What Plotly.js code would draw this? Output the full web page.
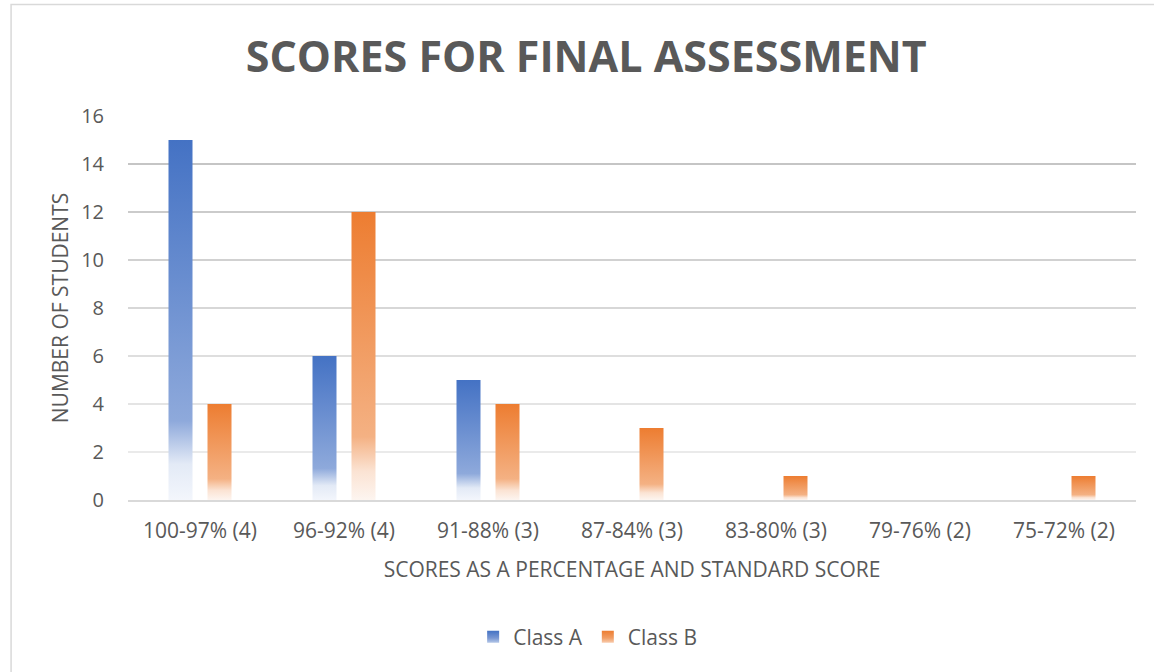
<!DOCTYPE html>
<html>
<head>
<meta charset="utf-8">
<script src="https://cdn.plot.ly/plotly-3.0.1.min.js"></script>
<style>
html,body{margin:0;padding:0;background:#fff;}
#chart{width:1154px;height:672px;}
</style>
</head>
<body>
<div id="chart"></div>
<script>
const categories = ['100-97% (4)', '96-92% (4)', '91-88% (3)', '87-84% (3)', '83-80% (3)', '79-76% (2)', '75-72% (2)'];
const classA = [15, 6, 5, 0, 0, 0, 0];
const classB = [4, 12, 4, 3, 1, 0, 1];
const seriesNames = ['Class A', 'Class B'];
const yTicks = [0, 2, 4, 6, 8, 10, 12, 14, 16];

const FONT = '"Open Sans", Lato, sans-serif';
const TXT = '#595959';

const traces = [
  {type: 'bar', name: seriesNames[0], x: categories, y: classA, marker: {color: '#4472C4'}, hoverinfo: 'skip'},
  {type: 'bar', name: seriesNames[1], x: categories, y: classB, marker: {color: '#ED7D31'}, hoverinfo: 'skip'}
];

const layout = {
  width: 1154, height: 672,
  paper_bgcolor: '#fff', plot_bgcolor: '#fff',
  margin: {l: 128, r: 18, t: 116, b: 171.5},
  font: {family: FONT, color: TXT, size: 21},
  title: {
    text: '<b>SCORES FOR FINAL ASSESSMENT</b>',
    font: {family: FONT, size: 43, color: TXT},
    x: 0.508, xref: 'container', xanchor: 'center',
    y: 0.915, yref: 'container', yanchor: 'middle'
  },
  barmode: 'group',
  bargap: 0.4583,
  bargroupgap: 0.3846,
  showlegend: true,
  legend: {
    orientation: 'h', x: 0.456, xanchor: 'center', y: -0.357, yanchor: 'middle',
    font: {family: FONT, size: 21, color: TXT},
    itemwidth: 30
  },
  xaxis: {
    type: 'category',
    showgrid: false,
    showline: true, linecolor: '#d9d9d9', linewidth: 2,
    ticks: '', ticklabelstandoff: 11,
    tickfont: {family: FONT, size: 21, color: TXT},
    title: {text: 'SCORES AS A PERCENTAGE AND STANDARD SCORE', font: {family: FONT, size: 21, color: TXT}, standoff: 19},
    fixedrange: true
  },
  yaxis: {
    range: [0, 16],
    tickvals: yTicks,
    showgrid: true, gridcolor: '#d9d9d9', gridwidth: 1.5,
    zeroline: false, showline: false,
    ticks: '', ticklabelstandoff: 23,
    tickfont: {family: FONT, size: 20, color: TXT},
    title: {text: 'NUMBER OF STUDENTS', font: {family: FONT, size: 21, color: TXT}, standoff: 6},
    fixedrange: true
  },
  shapes: [{
    type: 'rect', xref: 'paper', yref: 'paper',
    x0: -0.116, x1: 1.05, y0: -0.5, y1: 1.2904,
    line: {color: '#d9d9d9', width: 1.5}, fillcolor: 'rgba(0,0,0,0)', layer: 'below'
  }]
};

function lerp(a, b, t) { return Math.round(a + (b - a) * t); }

Plotly.newPlot('chart', traces, layout, {staticPlot: true, displayModeBar: false}).then(function (gd) {
  const svg = gd.querySelector('.main-svg');
  let defs = svg.querySelector('defs');
  if (!defs) { defs = document.createElementNS('http://www.w3.org/2000/svg', 'defs'); svg.insertBefore(defs, svg.firstChild); }
  const grads = {
    gA: [[0, '#4472C4'], [0.78, '#8EA9DB'], [0.9, '#E3EAF6'], [1, '#F3F6FC']],
    gB: [[0, '#ED7D31'], [0.78, '#F4B183'], [0.9, '#FBE3D3'], [1, '#FDF5F0']],
    lA: [[0, '#4472C4'], [0.6, '#7896D2'], [1, '#B4C7E7']],
    lB: [[0, '#ED7D31'], [0.6, '#F19D63'], [1, '#F8CBAD']]
  };
  Object.keys(grads).forEach(function (id) {
    const lg = document.createElementNS('http://www.w3.org/2000/svg', 'linearGradient');
    lg.setAttribute('id', id);
    lg.setAttribute('x1', '0'); lg.setAttribute('y1', '0');
    lg.setAttribute('x2', '0'); lg.setAttribute('y2', '1');
    grads[id].forEach(function (s) {
      const st = document.createElementNS('http://www.w3.org/2000/svg', 'stop');
      st.setAttribute('offset', s[0]);
      st.setAttribute('stop-color', s[1]);
      lg.appendChild(st);
    });
    defs.appendChild(lg);
  });
  const ids = ['gA', 'gB'];
  const lids = ['lA', 'lB'];
  gd.querySelectorAll('.barlayer .trace').forEach(function (tr, i) {
    tr.querySelectorAll('path').forEach(function (p) { p.style.fill = 'url(#' + ids[i] + ')'; });
  });
  gd.querySelectorAll('.legend .traces').forEach(function (tr, i) {
    tr.querySelectorAll('.legendpoints path').forEach(function (p) {
      p.style.fill = 'url(#' + lids[i] + ')';
    });
  });
  // gridline shading: darker at top, lighter toward the bottom
  const top = layout.margin.t, bot = layout.height - layout.margin.b;
  gd.querySelectorAll('.gridlayer .ygrid').forEach(function (p) {
    const tf = p.getAttribute('transform') || '';
    const m = tf.match(/translate\(\s*[-\d.]+\s*,\s*([-\d.]+)/);
    if (!m) return;
    const y = parseFloat(m[1]);
    const t = Math.max(0, Math.min(1, (y - top) / (bot - top)));
    const c = lerp(0xbf, 0xf0, t);
    p.style.stroke = 'rgb(' + c + ',' + c + ',' + c + ')';
  });
});
</script>
</body>
</html>
